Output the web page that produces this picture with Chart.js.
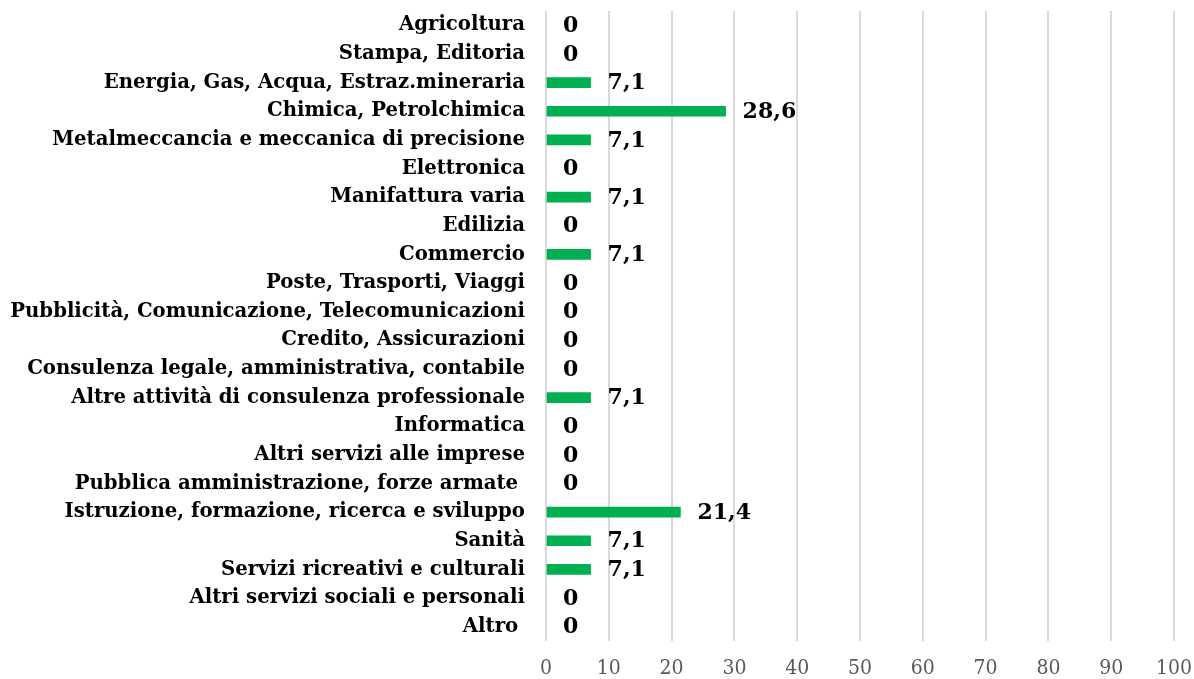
<!DOCTYPE html>
<html>
<head>
<meta charset="utf-8">
<script src="https://cdn.jsdelivr.net/npm/chart.js@4/dist/chart.umd.min.js"></script>
<style>
html,body{margin:0;padding:0;background:#fff;}
#wrap{position:relative;width:1194px;height:679px;}
</style>
</head>
<body>
<div id="wrap"><canvas id="c" width="1194" height="679"></canvas></div>
<script>
const categories = [
  "Agricoltura",
  "Stampa, Editoria",
  "Energia, Gas, Acqua, Estraz.mineraria",
  "Chimica, Petrolchimica",
  "Metalmeccancia e meccanica di precisione",
  "Elettronica",
  "Manifattura varia",
  "Edilizia",
  "Commercio",
  "Poste, Trasporti, Viaggi",
  "Pubblicità, Comunicazione, Telecomunicazioni",
  "Credito, Assicurazioni",
  "Consulenza legale, amministrativa, contabile",
  "Altre attività di consulenza professionale",
  "Informatica",
  "Altri servizi alle imprese",
  "Pubblica amministrazione, forze armate ",
  "Istruzione, formazione, ricerca e sviluppo",
  "Sanità",
  "Servizi ricreativi e culturali",
  "Altri servizi sociali e personali",
  "Altro "
];
const values = [0, 0, 7.1, 28.6, 7.1, 0, 7.1, 0, 7.1, 0, 0, 0, 0, 7.1, 0, 0, 0, 21.4, 7.1, 7.1, 0, 0];
const xTicks = [0, 10, 20, 30, 40, 50, 60, 70, 80, 90, 100];

const labelFont = "bold 22px 'DejaVu Serif'";

const valueLabels = {
  id: 'valueLabels',
  afterDatasetsDraw(chart) {
    const ctx = chart.ctx;
    const meta = chart.getDatasetMeta(0);
    const xs = chart.scales.x;
    ctx.save();
    ctx.font = labelFont;
    ctx.fillStyle = '#000';
    ctx.textAlign = 'left';
    ctx.textBaseline = 'middle';
    meta.data.forEach((bar, i) => {
      const v = values[i];
      const x = xs.getPixelForValue(v) + 17;
      ctx.fillText(String(v).replace('.', ','), x, bar.y + 1);
    });
    ctx.restore();
  }
};

new Chart(document.getElementById('c'), {
  type: 'bar',
  data: {
    labels: categories,
    datasets: [{
      data: values,
      backgroundColor: values.map(v => v > 0 ? '#00B050' : 'rgba(0,0,0,0)'),
      borderWidth: 0,
      barThickness: 10
    }]
  },
  options: {
    indexAxis: 'y',
    responsive: false,
    animation: false,
    layout: { padding: { top: 11, right: 20, bottom: 0, left: 0 } },
    plugins: { legend: { display: false }, tooltip: { enabled: false } },
    scales: {
      x: {
        min: 0, max: 100,
        afterBuildTicks(scale) { scale.ticks = xTicks.map(v => ({ value: v })); },
        afterFit(scale) { scale.height = 38; scale.paddingLeft = 0; scale.paddingRight = 0; },
        grid: { color: '#d9d9d9', lineWidth: 2, drawTicks: false },
        border: { display: false },
        ticks: {
          padding: 15,
          color: '#595959',
          font: { family: "'DejaVu Serif Condensed', 'DejaVu Serif'", size: 21 }
        }
      },
      y: {
        afterFit(scale) { scale.width = 546; scale.paddingTop = 0; scale.paddingBottom = 0; },
        grid: { display: false, drawTicks: false },
        border: { display: false },
        ticks: {
          padding: 21,
          color: '#000',
          autoSkip: false,
          font: { family: "'DejaVu Serif'", size: 19.7, weight: 'bold' }
        }
      }
    }
  },
  plugins: [valueLabels]
});
</script>
</body>
</html>
